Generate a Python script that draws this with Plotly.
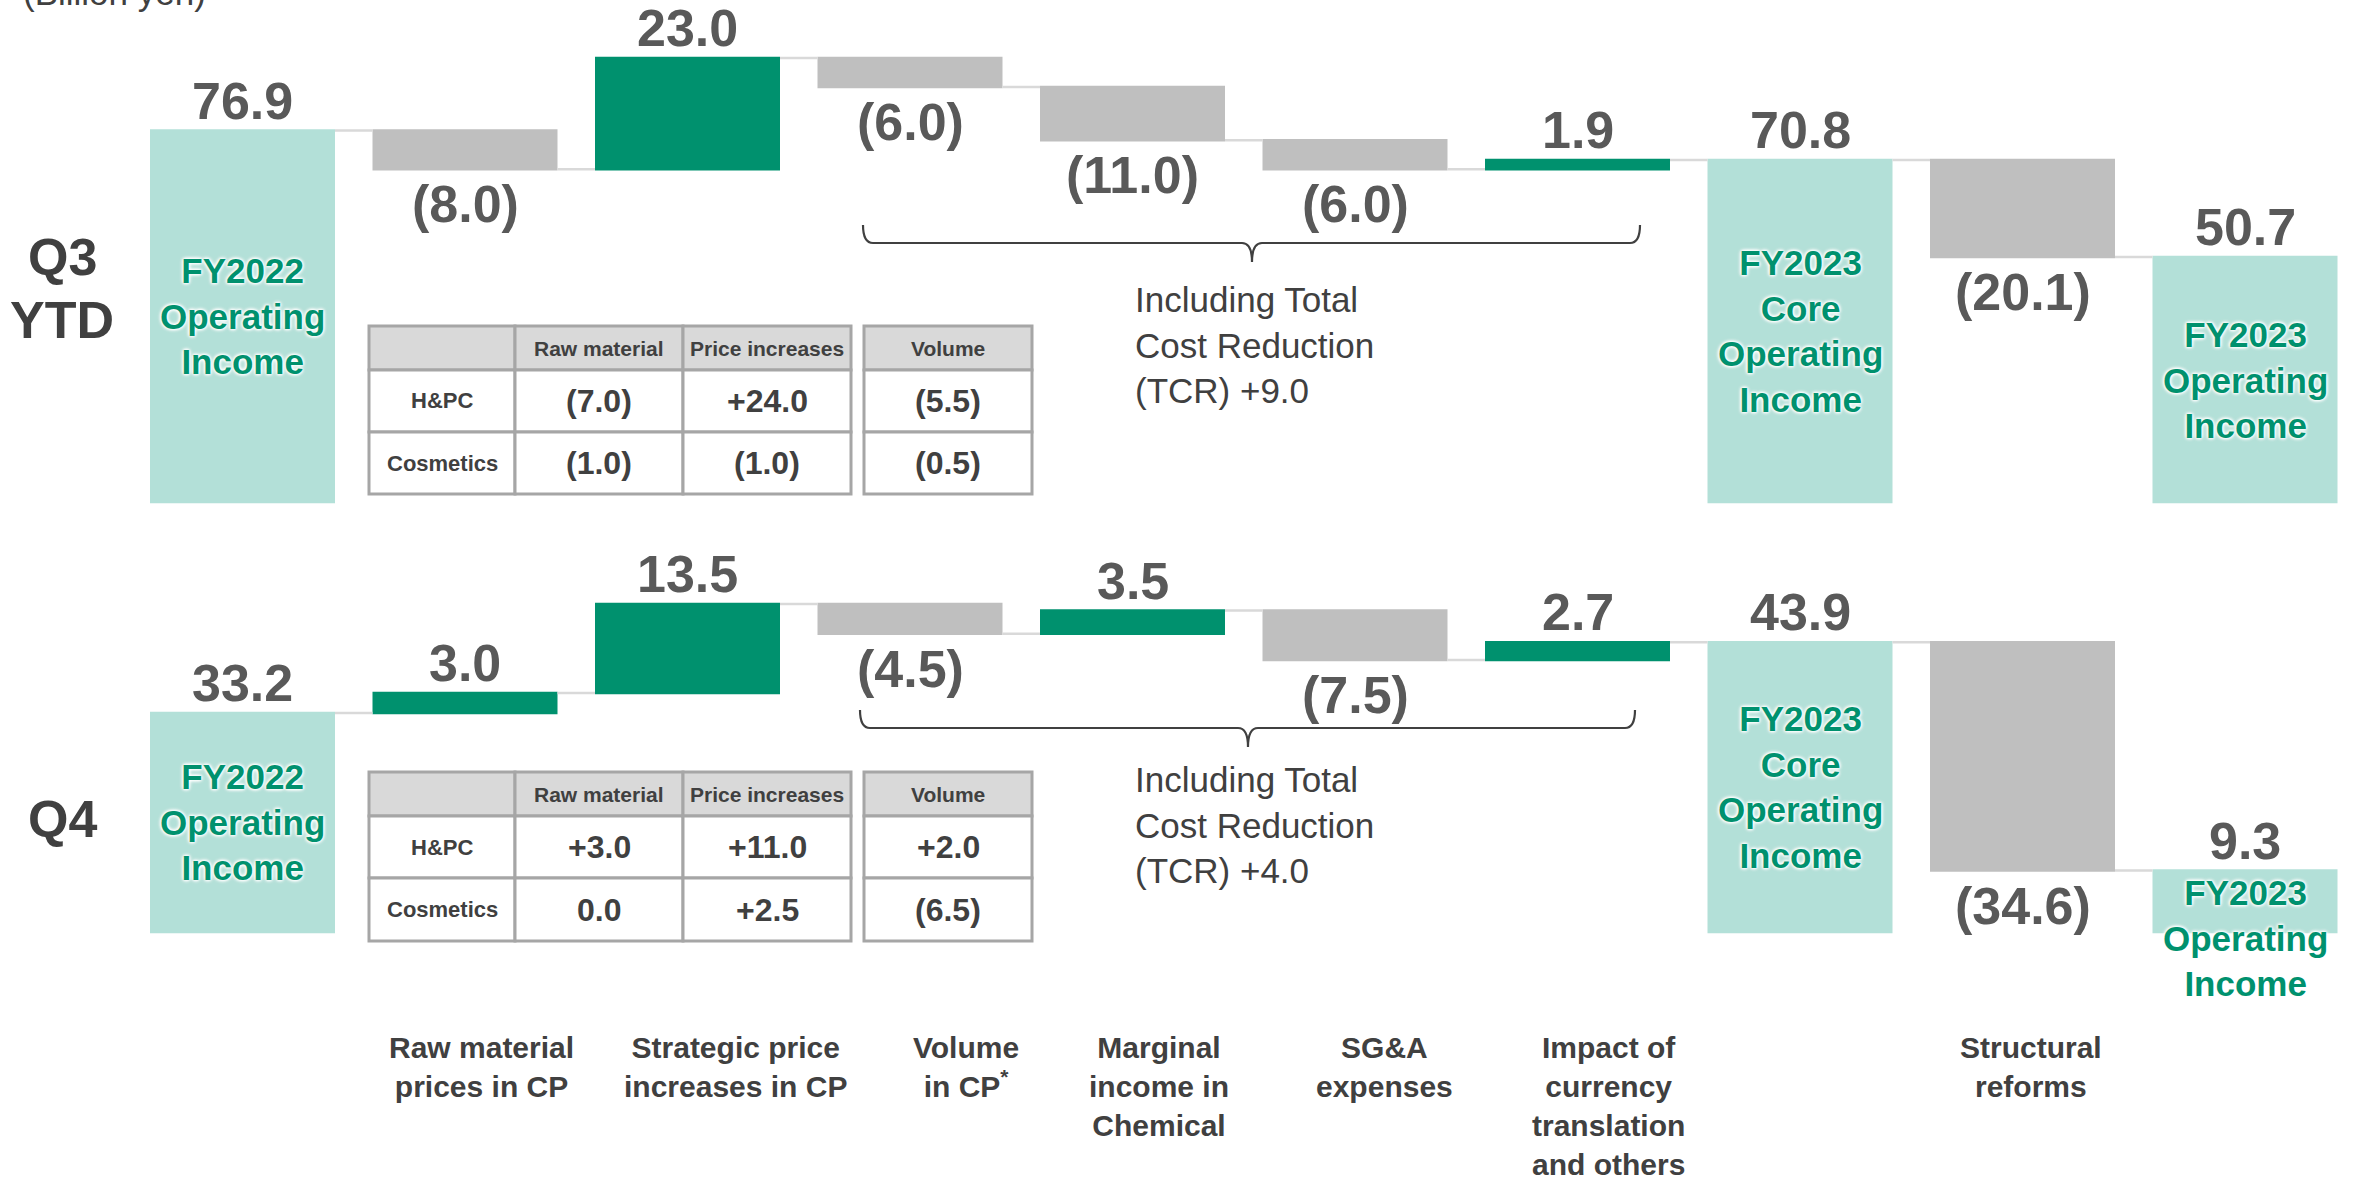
import plotly.graph_objects as go

# ---------------- data ----------------
categories = ["FY2022 Operating Income", "Raw material prices in CP",
              "Strategic price increases in CP", "Volume in CP*",
              "Marginal income in Chemical", "SG&A expenses",
              "Impact of currency translation and others",
              "FY2023 Core Operating Income", "Structural reforms",
              "FY2023 Operating Income"]
measures = ["absolute", "relative", "relative", "relative", "relative",
            "relative", "relative", "total", "relative", "total"]
q3_values = [76.9, -8.0, 23.0, -6.0, -11.0, -6.0, 1.9, 70.8, -20.1, 50.7]
q4_values = [33.2, 3.0, 13.5, -4.5, 3.5, -7.5, 2.7, 43.9, -34.6, 9.3]

total_bar_labels = {0: "FY2022<br>Operating<br>Income",
                    7: "FY2023<br>Core<br>Operating<br>Income",
                    9: "FY2023<br>Operating<br>Income"}
axis_labels = ["", "Raw material<br>prices in CP", "Strategic price<br>increases in CP",
               "Volume<br>in CP<sup>*</sup>", "Marginal<br>income in<br>Chemical",
               "SG&A<br>expenses", "Impact of<br>currency<br>translation<br>and others",
               "", "Structural<br>reforms", ""]

table_rows = ["H&PC", "Cosmetics"]
table_cols = ["Raw material", "Price increases", "Volume"]
q3_table = [[-7.0, 24.0, -5.5], [-1.0, -1.0, -0.5]]
q4_table = [[3.0, 11.0, 2.0], [0.0, 2.5, -6.5]]
tcr_q3 = 9.0
tcr_q4 = 4.0
unit_label = "(Billion yen)"
period_labels = [["Q3", "YTD"], ["Q4"]]

# ---------------- styling / layout ----------------
W, H = 2366, 1182
FONT = "Liberation Sans, Arial, sans-serif"
GREEN = "#00916E"
TEAL = "#B3E0D8"
GRAY = "#BFBFBF"
LBL = "#595959"
DARK = "#404040"
GLOW = "0px 0px 3px #ffffff, 0px 0px 3px #ffffff, 0px 0px 4px #ffffff, 0px 0px 4px #ffffff"

X0_PX, STEP_PX = 242.5, 222.5
BAR_W = 185 / STEP_PX
panels = [dict(base=502.0, ppu=4.83, yaxis="y", vals=q3_values, table=q3_table,
               rows_y=[326, 370, 432, 494], tcr=tcr_q3, tcr_top=278,
               brace=(863, 1640, 225, 243, 262, 1252)),
          dict(base=932.0, ppu=6.6, yaxis="y2", vals=q4_values, table=q4_table,
               rows_y=[772, 816, 878, 941], tcr=tcr_q4, tcr_top=758,
               brace=(860, 1635, 710, 728, 747, 1248))]
label_xshift = [0, 16, 48, 56, 26, 29, 31, 0, 8, 0]


def px_x(p):
    return p / W


def px_y(p):
    return 1 - p / H


def fmt_bar(v):
    return "({:.1f})".format(abs(v)) if v < 0 else "{:.1f}".format(v)


def fmt_tab(v):
    if v < 0:
        return "({:.1f})".format(abs(v))
    if v > 0:
        return "+{:.1f}".format(v)
    return "{:.1f}".format(v)


def bar_extents(vals, meas):
    out, s = [], 0.0
    for v, m in zip(vals, meas):
        if m == "absolute":
            s = v
            out.append((0.0, v, v, True))
        elif m == "total":
            out.append((0.0, s, s, True))
        else:
            out.append((s, s + v, v, False))
            s += v
    return out


fig = go.Figure()
annotations = []
shapes = []
xs = list(range(len(categories)))

for p in panels:
    fig.add_trace(go.Waterfall(
        x=xs, y=p["vals"], measure=measures, yaxis=p["yaxis"], width=BAR_W,
        increasing=dict(marker=dict(color=GREEN)),
        decreasing=dict(marker=dict(color=GRAY)),
        totals=dict(marker=dict(color=TEAL)),
        connector=dict(mode="between", line=dict(color="#D9D9D9", width=2.5)),
        hoverinfo="skip", showlegend=False))
    yref = p["yaxis"]
    for i, (a, b, v, is_sum) in enumerate(bar_extents(p["vals"], measures)):
        top, bot = max(a, b), min(a, b)
        if is_sum or v >= 0:
            annotations.append(dict(x=i, y=top, xref="x", yref=yref, text=fmt_bar(round(v, 1)),
                                    yanchor="bottom", showarrow=False, yshift=-1,
                                    font=dict(family=FONT, size=52, color=LBL, weight=700)))
        else:
            annotations.append(dict(x=i, y=bot, xref="x", yref=yref, text=fmt_bar(v),
                                    yanchor="top", showarrow=False, yshift=-4,
                                    font=dict(family=FONT, size=52, color=LBL, weight=700)))
        if i in total_bar_labels:
            hpx = top * p["ppu"]
            if hpx > 150:
                yy, ya = top / 2, "middle"
            else:
                yy, ya = top, "top"
            annotations.append(dict(x=i, y=yy, xref="x", yref=yref, yanchor=ya,
                                    text=total_bar_labels[i], showarrow=False,
                                    font=dict(family=FONT, size=35, color=GREEN, weight=700,
                                              shadow=GLOW)))
    # tables
    ry = p["rows_y"]
    col_edges = [(369, 515), (515, 683), (683, 851), (864, 1032)]
    header_texts = [""] + table_cols
    for c, (xl, xr) in enumerate(col_edges):
        for r in range(3):
            shapes.append(dict(type="rect", xref="paper", yref="paper",
                               x0=px_x(xl), x1=px_x(xr), y0=px_y(ry[r]), y1=px_y(ry[r + 1]),
                               fillcolor="#D9D9D9" if r == 0 else "#FFFFFF",
                               line=dict(color="#A6A6A6", width=3), layer="above"))
        for r in range(3):
            if r == 0:
                txt, size = header_texts[c], 21
            elif c == 0:
                txt, size = table_rows[r - 1], 22
            else:
                txt, size = fmt_tab(p["table"][r - 1][c - 1]), 32
            if txt:
                annotations.append(dict(x=px_x((xl + xr) / 2), y=px_y((ry[r] + ry[r + 1]) / 2),
                                        xref="paper", yref="paper", text=txt, showarrow=False,
                                        xanchor="center", yanchor="middle",
                                        font=dict(family=FONT, size=size, color=DARK, weight=700)))
    # brace
    L, R, T, M, B, C = p["brace"]
    path = ("M {a},{b} Q {a},{c} {d},{c} L {e},{c} Q {f},{c} {f},{g} "
            "Q {f},{c} {h},{c} L {i},{c} Q {j},{c} {j},{b}").format(
        a=px_x(L), b=px_y(T), c=px_y(M), d=px_x(L + 10), e=px_x(C - 10), f=px_x(C),
        g=px_y(B), h=px_x(C + 10), i=px_x(R - 10), j=px_x(R))
    shapes.append(dict(type="path", xref="paper", yref="paper", path=path,
                       line=dict(color=DARK, width=2.2)))
    annotations.append(dict(x=px_x(1133), y=px_y(p["tcr_top"]), xref="paper", yref="paper",
                            xanchor="left", yanchor="top", align="left", showarrow=False,
                            text="Including Total<br>Cost Reduction<br>(TCR) +{:.1f}".format(p["tcr"]),
                            font=dict(family=FONT, size=35, color=DARK)))

# period labels
for (txt, cy) in [("Q3", 257), ("YTD", 320)]:
    annotations.append(dict(x=px_x(62), y=px_y(cy), xref="paper", yref="paper", text=txt,
                            showarrow=False, xanchor="center", yanchor="middle",
                            font=dict(family=FONT, size=52, color=DARK, weight=700)))
annotations.append(dict(x=px_x(62), y=px_y(819), xref="paper", yref="paper", text=period_labels[1][0],
                        showarrow=False, xanchor="center", yanchor="middle",
                        font=dict(family=FONT, size=52, color=DARK, weight=700)))

# unit label (partly cut off at top)
annotations.append(dict(x=px_x(21), y=px_y(14), xref="paper", yref="paper", text=unit_label,
                        showarrow=False, xanchor="left", yanchor="bottom",
                        font=dict(family=FONT, size=35, color=DARK)))

# category labels
for i, t in enumerate(axis_labels):
    if t:
        annotations.append(dict(x=i, y=px_y(1029), xref="x", yref="paper", text=t,
                                xshift=label_xshift[i], showarrow=False, xanchor="center",
                                yanchor="top", align="center",
                                font=dict(family=FONT, size=30, color=DARK, weight=700)))

x_lo = -X0_PX / STEP_PX
x_hi = (W - X0_PX) / STEP_PX
p0, p1 = panels
fig.update_layout(
    width=W, height=H, margin=dict(l=0, r=0, t=0, b=0),
    paper_bgcolor="white", plot_bgcolor="white",
    waterfallmode="overlay",
    xaxis=dict(range=[x_lo, x_hi], visible=False, fixedrange=True),
    yaxis=dict(range=[(p0["base"] - H) / p0["ppu"], p0["base"] / p0["ppu"]],
               visible=False, domain=[0, 1], fixedrange=True),
    yaxis2=dict(range=[(p1["base"] - H) / p1["ppu"], p1["base"] / p1["ppu"]],
                visible=False, domain=[0, 1], overlaying="y", fixedrange=True),
    annotations=annotations, shapes=shapes, showlegend=False,
)

fig.write_html("out.html", config={"displayModeBar": False},
               post_script="document.body.style.margin='0';document.body.style.overflow='hidden';")
